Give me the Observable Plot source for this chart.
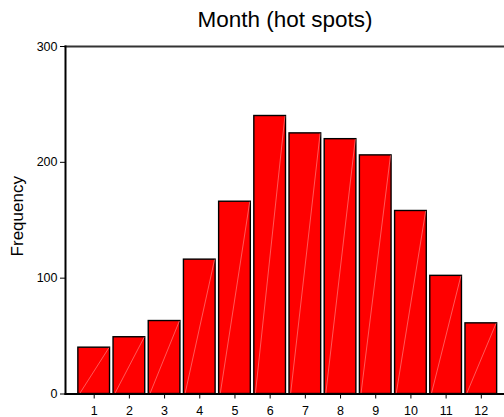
<!DOCTYPE html>
<html><head><meta charset="utf-8">
<script src="https://cdn.jsdelivr.net/npm/d3@7"></script>
<script src="https://cdn.jsdelivr.net/npm/@observablehq/plot@0.6"></script>
<style>
html,body{margin:0;padding:0;background:#fff}
#chart g[aria-label$="tick label"], #chart g[aria-label$="tick label"] text{font-size:12.5px !important}
</style>
</head><body><div id="chart"></div>
<script>
const months = [1,2,3,4,5,6,7,8,9,10,11,12];
const frequency = [40,49,63,116,166,240,225,220,206,158,102,61];
const yTicks = [0,100,200,300];
const title = "Month (hot spots)";
const yLabel = "Frequency";

const data = months.map((m,i)=>({month:m, frequency:frequency[i]}));
const half = 0.45;

const chart = Plot.plot({
  width:504, height:417,
  marginTop:46, marginBottom:23.5, marginLeft:65, marginRight:0,
  style:{fontFamily:"'Liberation Sans', Arial, sans-serif", fontSize:"12.5px", background:"#fff", color:"#000"},
  x:{type:"linear", domain:[0.5,12.5], range:[76.1,498.4]},
  y:{type:"linear", domain:[0,300]},
  marks:[
    Plot.rectY(data,{x1:d=>d.month-half, x2:d=>d.month+half, y:"frequency", fill:"#ff0000", stroke:"#000", strokeWidth:1.4}),
    Plot.link(data,{x1:d=>d.month-half+0.03, y1:()=>0, x2:d=>d.month+half-0.03, y2:"frequency", stroke:"#ff8a8a", strokeWidth:0.8, strokeOpacity:0.8}),
    Plot.frame({anchor:"top", stroke:"#333", strokeWidth:2}),
    Plot.frame({anchor:"left", stroke:"#000", strokeWidth:2}),
    Plot.frame({anchor:"bottom", stroke:"#000", strokeWidth:2}),
    Plot.axisY({ticks:yTicks, tickSize:5, tickPadding:3, label:null}),
    Plot.axisX({ticks:months, tickSize:5, tickPadding:7, label:null, tickFormat:d=>String(d)}),
    Plot.text([yLabel], {text:d=>d, frameAnchor:"left", textAnchor:"middle", dx:-48, dy:-4, rotate:-90, fontSize:17, fill:"#000"}),
    Plot.text([title], {text:d=>d, frameAnchor:"top", dy:-35, fontSize:22.5, fill:"#000"})
  ]
});
document.getElementById("chart").appendChild(chart);
</script>
</body></html>
